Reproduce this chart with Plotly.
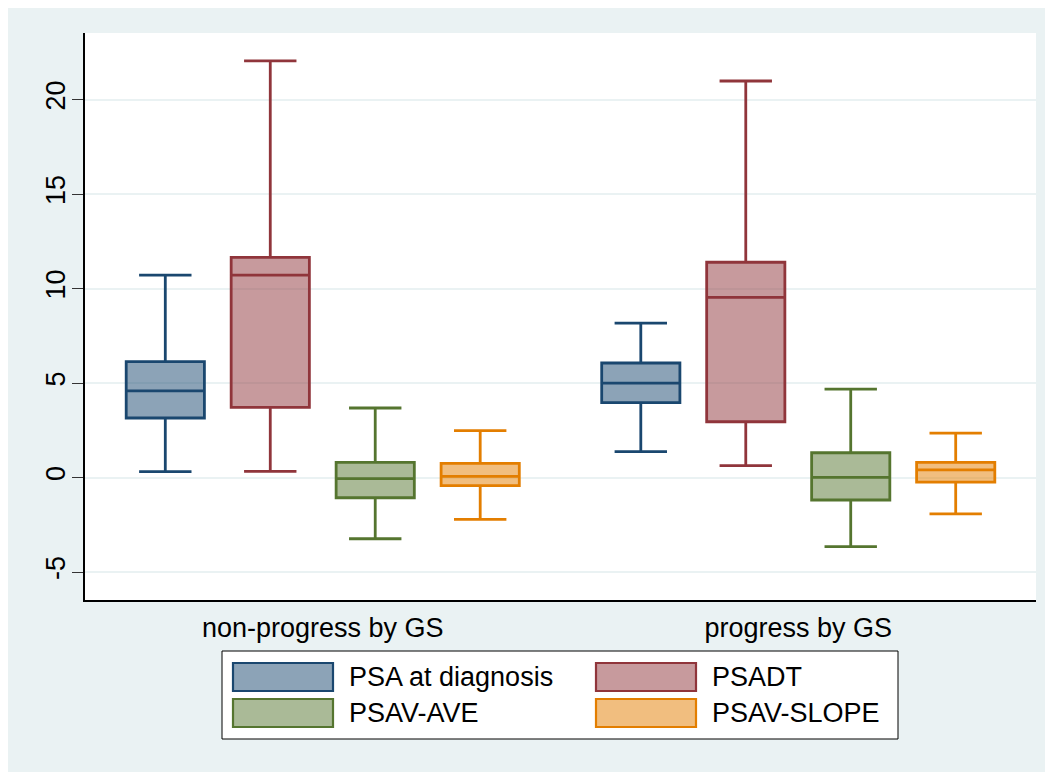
import plotly.graph_objects as go

# ---- data ----
categories = ["non-progress by GS", "progress by GS"]
series_names = ["PSA at diagnosis", "PSADT", "PSAV-AVE", "PSAV-SLOPE"]

psa_dx_lower = [0.31, 1.37]
psa_dx_q1 = [3.15, 3.96]
psa_dx_median = [4.58, 5.00]
psa_dx_q3 = [6.13, 6.06]
psa_dx_upper = [10.71, 8.17]

psadt_lower = [0.33, 0.63]
psadt_q1 = [3.71, 2.95]
psadt_median = [10.71, 9.53]
psadt_q3 = [11.65, 11.39]
psadt_upper = [22.04, 20.98]

psav_ave_lower = [-3.24, -3.66]
psav_ave_q1 = [-1.07, -1.19]
psav_ave_median = [-0.06, 0.01]
psav_ave_q3 = [0.80, 1.31]
psav_ave_upper = [3.68, 4.68]

psav_slope_lower = [-2.21, -1.92]
psav_slope_q1 = [-0.43, -0.24]
psav_slope_median = [0.06, 0.40]
psav_slope_q3 = [0.75, 0.80]
psav_slope_upper = [2.48, 2.35]

y_ticks = [-5, 0, 5, 10, 15, 20]

# ---- styles ----
line_colors = ["#1a476f", "#90353b", "#55752f", "#e37e00"]
fill_colors = ["rgba(26,71,111,0.5)", "rgba(144,53,59,0.5)",
               "rgba(85,117,47,0.5)", "rgba(227,126,0,0.5)"]
BG = "#EAF2F3"
FONT = "Liberation Sans, Arial, sans-serif"
FS = 27
OFF = 8  # page body margin
W, H = 1053 - OFF, 772 - OFF
L, R, T, B = 77, 17, 25, 172

stats = [
    (psa_dx_lower, psa_dx_q1, psa_dx_median, psa_dx_q3, psa_dx_upper),
    (psadt_lower, psadt_q1, psadt_median, psadt_q3, psadt_upper),
    (psav_ave_lower, psav_ave_q1, psav_ave_median, psav_ave_q3, psav_ave_upper),
    (psav_slope_lower, psav_slope_q1, psav_slope_median, psav_slope_q3, psav_slope_upper),
]

fig = go.Figure()
for name, (lo, q1, med, q3, hi), lc, fc in zip(series_names, stats, line_colors, fill_colors):
    fig.add_trace(go.Box(
        name=name, x=categories,
        lowerfence=lo, q1=q1, median=med, q3=q3, upperfence=hi,
        line=dict(color=lc, width=2.8), fillcolor=fc,
        whiskerwidth=0.67, boxpoints=False, showlegend=False,
    ))

pw, ph = W - L - R, H - T - B


def px2x(px):  # page pixel -> paper x
    return (px - OFF - L) / pw


def py2y(py):  # page pixel -> paper y
    return (H - B - (py - OFF)) / ph


shapes = []
annotations = []
# legend box (custom, to mimic large swatches)
shapes.append(dict(type="rect", xref="paper", yref="paper", x0=px2x(222), x1=px2x(898),
                   y0=py2y(739), y1=py2y(651), fillcolor="white",
                   line=dict(color="black", width=1)))
col_x = [233, 596]
row_y = [677, 713]
for i, (name, lc, fc) in enumerate(zip(series_names, line_colors, fill_colors)):
    cx = col_x[i % 2]
    cy = row_y[i // 2]
    shapes.append(dict(type="rect", xref="paper", yref="paper",
                       x0=px2x(cx), x1=px2x(cx + 100), y0=py2y(cy + 14), y1=py2y(cy - 14),
                       fillcolor=fc, line=dict(color=lc, width=2.2)))
    annotations.append(dict(xref="paper", yref="paper", x=px2x(cx + 114), y=py2y(cy),
                            text=name, showarrow=False, xanchor="left", yanchor="middle",
                            font=dict(family=FONT, size=FS, color="black")))

fig.update_layout(
    width=W, height=H,
    margin=dict(l=L, r=R, t=T, b=B, pad=0),
    paper_bgcolor=BG, plot_bgcolor="white",
    boxmode="group", boxgap=0.117, boxgroupgap=0.255,
    font=dict(family=FONT, size=FS, color="black"),
    shapes=shapes, annotations=annotations,
    showlegend=False,
)
fig.update_xaxes(
    type="category", showgrid=False, showline=True, linecolor="black", linewidth=2,
    ticks="", tickfont=dict(size=FS), ticklabelstandoff=3, zeroline=False,
)
fig.update_yaxes(
    range=[-6.48, 23.52], tickvals=y_ticks, ticktext=[str(v) for v in y_ticks],
    tickangle=-90, ticks="outside", ticklen=11, tickwidth=1.2, tickcolor="#333",
    showline=True, linecolor="black", linewidth=1.5,
    showgrid=True, gridcolor=BG, gridwidth=2, zeroline=False,
    tickfont=dict(size=FS), ticklabelstandoff=-4,
)

fig.write_html("out.html")
